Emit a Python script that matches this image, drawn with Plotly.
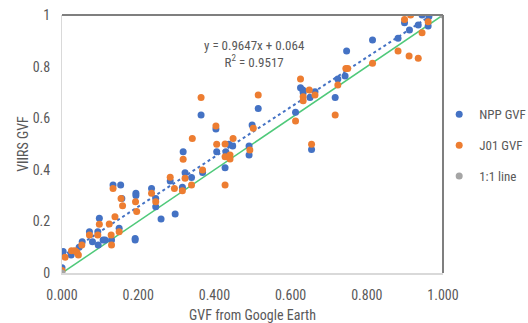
import numpy as np
import plotly.graph_objects as go

# GVF from Google Earth (x) vs VIIRS GVF (y)
npp_x = [0.000, 0.003, 0.024, 0.045, 0.053, 0.072, 0.080, 0.094, 0.098, 0.095,
         0.108, 0.113, 0.130, 0.134, 0.154, 0.150, 0.157, 0.192, 0.192, 0.194,
         0.194, 0.235, 0.246, 0.246, 0.260, 0.284, 0.297, 0.316, 0.318, 0.323,
         0.340, 0.365, 0.369, 0.404, 0.406, 0.428, 0.430, 0.438, 0.448, 0.491,
         0.491, 0.499, 0.515, 0.613, 0.626, 0.632, 0.633, 0.651, 0.655, 0.664,
         0.717, 0.724, 0.743, 0.747, 0.815, 0.882, 0.899, 0.912, 0.935, 0.945,
         0.963, 0.961]
npp_y = [0.020, 0.083, 0.070, 0.100, 0.121, 0.160, 0.121, 0.160, 0.212, 0.109,
         0.128, 0.128, 0.128, 0.341, 0.341, 0.173, 0.289, 0.134, 0.128, 0.309,
         0.300, 0.328, 0.289, 0.257, 0.209, 0.357, 0.229, 0.332, 0.470, 0.389,
         0.370, 0.612, 0.390, 0.558, 0.470, 0.408, 0.470, 0.499, 0.492, 0.492,
         0.457, 0.574, 0.638, 0.623, 0.718, 0.709, 0.699, 0.680, 0.479, 0.703,
         0.680, 0.752, 0.764, 0.860, 0.903, 0.910, 0.970, 0.942, 0.961, 1.000,
         0.994, 0.957]

j01_x = [0.000, 0.008, 0.025, 0.034, 0.039, 0.043, 0.052, 0.072, 0.094, 0.098,
         0.124, 0.129, 0.130, 0.134, 0.139, 0.150, 0.155, 0.159, 0.193, 0.196,
         0.235, 0.246, 0.284, 0.295, 0.316, 0.318, 0.323, 0.340, 0.342, 0.365,
         0.369, 0.404, 0.406, 0.428, 0.428, 0.428, 0.441, 0.441, 0.449, 0.493,
         0.502, 0.515, 0.613, 0.626, 0.633, 0.633, 0.649, 0.655, 0.664, 0.717,
         0.724, 0.745, 0.750, 0.815, 0.882, 0.899, 0.911, 0.915, 0.935, 0.945,
         0.961]
j01_y = [0.010, 0.061, 0.086, 0.086, 0.080, 0.070, 0.109, 0.147, 0.147, 0.189,
         0.190, 0.147, 0.109, 0.328, 0.218, 0.160, 0.289, 0.261, 0.276, 0.238,
         0.309, 0.276, 0.371, 0.328, 0.319, 0.441, 0.367, 0.341, 0.521, 0.680,
         0.399, 0.570, 0.499, 0.500, 0.451, 0.341, 0.457, 0.442, 0.521, 0.477,
         0.561, 0.690, 0.589, 0.752, 0.683, 0.668, 0.709, 0.499, 0.690, 0.612,
         0.729, 0.793, 0.793, 0.813, 0.860, 0.983, 0.841, 1.000, 0.832, 0.931,
         0.974]

one_x = [0.0, 1.0]
one_y = [0.0, 1.0]

# Linear fit reported for the NPP series
fit_slope = 0.9647
fit_intercept = 0.064
fit_r2 = 0.9517

x_ticks = [0, 0.2, 0.4, 0.6, 0.8, 1.0]
y_ticks = [0, 0.2, 0.4, 0.6, 0.8, 1.0]

FONT = "Liberation Sans Narrow, Roboto Condensed, Liberation Sans, Arial, sans-serif"
TXT = "#595959"
BLUE = "#4472C4"
ORANGE = "#ED7D31"
GRAY = "#A5A5A5"
GREEN = "#4FC97A"

fit_x = np.array([0.0, max(npp_x)])
fit_y = fit_slope * fit_x + fit_intercept

fig = go.Figure()

# 1:1 reference line (green) and NPP trendline (blue dotted)
fig.add_trace(go.Scatter(x=one_x, y=one_y, mode="lines",
                         line=dict(color=GREEN, width=1.5),
                         showlegend=False, hoverinfo="skip"))
fig.add_trace(go.Scatter(x=fit_x, y=fit_y, mode="lines",
                         line=dict(color=BLUE, width=2, dash="dot"),
                         showlegend=False, hoverinfo="skip"))

mk = dict(size=7)
fig.add_trace(go.Scatter(x=npp_x, y=npp_y, mode="markers", name="NPP GVF",
                         marker=dict(color=BLUE, **mk), legendgroup="a"))
fig.add_trace(go.Scatter(x=j01_x, y=j01_y, mode="markers", name="J01 GVF",
                         marker=dict(color=ORANGE, **mk), legendgroup="b"))
fig.add_trace(go.Scatter(x=one_x, y=one_y, mode="markers", name="1:1 line",
                         marker=dict(color=GRAY, **mk), legendgroup="c"))

fig.add_annotation(
    x=0.505, y=0.849, xref="x", yref="y", showarrow=False,
    text=f"y = {fit_slope}x + {fit_intercept}<br>R<sup>2</sup> = {fit_r2}",
    font=dict(family=FONT, size=13, color=TXT), align="center")

# dark frame on top and right edges of the plot area
fig.add_shape(type="line", xref="x domain", yref="y domain",
              x0=0, x1=1, y0=1, y1=1, line=dict(color="#7F7F7F", width=2))
fig.add_shape(type="line", xref="x domain", yref="y domain",
              x0=1, x1=1, y0=0, y1=1, line=dict(color="#7F7F7F", width=2))

fig.update_xaxes(range=[0, 1], tickvals=x_ticks, tickformat=".3f",
                 showgrid=False, zeroline=False, showline=True,
                 linecolor="#D9D9D9", linewidth=2,
                 ticks="outside", ticklen=8, tickcolor="rgba(0,0,0,0)",
                 tickfont=dict(family=FONT, size=14, color=TXT),
                 title=dict(text="GVF from Google Earth", standoff=12,
                            font=dict(family=FONT, size=14, color=TXT)))
fig.update_yaxes(range=[0, 1], tickvals=y_ticks,
                 showgrid=False, zeroline=False, showline=True,
                 linecolor="#D9D9D9", linewidth=1,
                 ticks="outside", ticklen=8, tickcolor="rgba(0,0,0,0)",
                 tickfont=dict(family=FONT, size=14, color=TXT),
                 title=dict(text="VIIRS GVF", standoff=0,
                            font=dict(family=FONT, size=14, color=TXT)))

fig.update_layout(
    width=528, height=323,
    margin=dict(l=62, r=85, t=15, b=50, autoexpand=False),
    paper_bgcolor="white", plot_bgcolor="white",
    font=dict(family=FONT, color=TXT),
    legend=dict(x=0.99, y=0.673, xanchor="left", yanchor="top",
                tracegroupgap=11, itemwidth=30,
                font=dict(family=FONT, size=13, color=TXT),
                bgcolor="rgba(0,0,0,0)"),
)

fig.write_html("out.html")
